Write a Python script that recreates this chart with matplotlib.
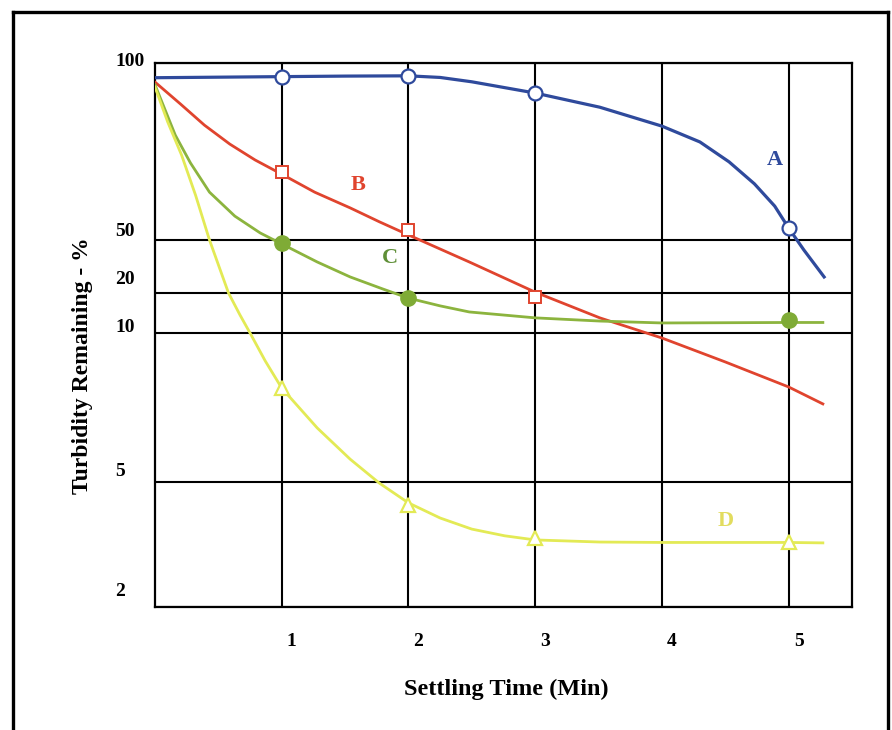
import numpy as np
import matplotlib
matplotlib.use("Agg")
import matplotlib.pyplot as plt
import matplotlib.transforms as mtransforms
from matplotlib.lines import Line2D

# --- 数据准备 ---
# 曲线 A（蓝色，空心圆）
a_curve_x = [0, 1, 1.5, 2, 2.25, 2.5, 3, 3.51, 4, 4.30, 4.53, 4.73, 4.89, 5.0, 5.12, 5.28]
a_curve_y = [94.4, 94.8, 95.0, 95.1, 94.5, 92.9, 88.9, 84.1, 78.1, 73.4, 67.9, 62.3, 57.1, 52.4, 42.1, 26.4]
a_mark_x = [1, 2, 3, 5]
a_mark_y = [94.8, 95.1, 88.8, 52.5]

# 曲线 B（红色，空心方块）
b_curve_x = [0, 0.20, 0.39, 0.59, 0.79, 1.0, 1.26, 1.54, 1.77, 2.0, 2.48, 3.0, 3.51, 4.0, 4.5, 5.0, 5.27]
b_curve_y = [92.8, 85.2, 78.4, 72.8, 68.4, 64.7, 60.3, 56.7, 53.7, 51.0, 34.2, 20.3, 13.0, 9.77, 8.74, 7.78, 7.19]
b_mark_x = [1, 2, 3]
b_mark_y = [65.2, 51.9, 18.6]

# 曲线 C（绿色，实心圆）
c_curve_x = [0, 0.08, 0.16, 0.28, 0.43, 0.63, 0.83, 1.0, 1.28, 1.54, 1.80, 2.0, 2.25, 2.48, 3.0, 3.51, 4.0, 5.0, 5.27]
c_curve_y = [91.8, 83.2, 75.4, 67.6, 60.3, 54.9, 51.4, 46.7, 34.2, 26.4, 21.4, 18.3, 16.0, 14.4, 13.0, 12.3, 11.9, 12.0, 12.0]
c_mark_x = [1, 2, 5]
c_mark_y = [47.5, 18.3, 12.5]

# 曲线 D（黄色，空心三角）
d_curve_x = [0, 0.10, 0.21, 0.32, 0.43, 0.58, 0.67, 0.75, 0.87, 1.0, 1.28, 1.54, 1.77, 2.0,
             2.25, 2.5, 2.76, 3.0, 3.51, 4.0, 5.0, 5.27]
d_curve_y = [91.0, 79.4, 69.7, 59.6, 50.0, 20.0, 13.7, 10.0, 8.78, 7.74, 6.43, 5.56, 4.96, 4.29,
             3.84, 3.54, 3.37, 3.27, 3.22, 3.21, 3.21, 3.20]
d_mark_x = [1, 2, 3, 5]
d_mark_y = [7.74, 4.22, 3.32, 3.23]

# 坐标轴刻度
x_ticks = [1, 2, 3, 4, 5]
x_tick_text = ["1", "2", "3", "4", "5"]
y_ticks = [2, 5, 10, 20, 50, 100]
y_tick_text = ["2", "5", "10", "20", "50", "100"]

# --- 纵轴：原图的刻度间距不均匀，按刻度分段对数映射 ---
tick_pos = [0, 125, 274, 314, 367, 544]


def fwd(v):
    v = np.maximum(np.asarray(v, dtype=float), 1e-3)
    return np.interp(np.log10(v), np.log10(y_ticks), tick_pos)


def inv(p):
    return 10 ** np.interp(p, tick_pos, np.log10(y_ticks))


plt.rcParams["font.family"] = ["Liberation Serif", "DejaVu Serif"]
plt.rcParams["font.weight"] = "bold"

fig = plt.figure(figsize=(8.92, 7.30), dpi=100)
ax = fig.add_axes([155 / 892, 123 / 730, 697 / 892, 544 / 730])
ax.set_yscale("function", functions=(fwd, inv))
ax.set_xlim(0, 5.5)
ax.set_ylim(2, 100)

# 网格线
ax.set_xticks(x_ticks)
ax.set_yticks(y_ticks)
ax.yaxis.set_minor_locator(matplotlib.ticker.NullLocator())
ax.set_xticklabels([])
ax.set_yticklabels([])
ax.tick_params(length=0)
ax.grid(True, color="black", linewidth=1.5)
for s in ax.spines.values():
    s.set_linewidth(1.6)

# 曲线与数据点
blue, red, green, yellow = "#2f4a9c", "#e0442e", "#8cb43e", "#e3ea55"
ax.plot(a_curve_x, a_curve_y, color=blue, lw=2.3, zorder=3)
ax.plot(b_curve_x, b_curve_y, color=red, lw=2.0, zorder=3)
ax.plot(c_curve_x, c_curve_y, color=green, lw=2.0, zorder=3)
ax.plot(d_curve_x, d_curve_y, color=yellow, lw=2.0, zorder=3)
ax.plot(a_mark_x, a_mark_y, "o", ms=10, mfc="white", mec=blue, mew=1.6, zorder=4)
ax.plot(b_mark_x, b_mark_y, "s", ms=8, mfc="white", mec=red, mew=1.4, zorder=4)
ax.plot(c_mark_x, c_mark_y, "o", ms=11, mfc="#7fab36", mec="#7fab36", zorder=4)
ax.plot(d_mark_x, d_mark_y, "^", ms=10, mfc="white", mec=yellow, mew=1.6, zorder=4)

# 曲线标注
ax.text(4.89, 68.4, "A", color=blue, fontsize=16, ha="center", va="center")
ax.text(1.60, 62.0, "B", color=red, fontsize=16, ha="center", va="center")
ax.text(1.85, 36.6, "C", color="#5f8f37", fontsize=16, ha="center", va="center")
ax.text(4.50, 3.76, "D", color="#e2dc5e", fontsize=16, ha="center", va="center")

# 刻度文字（原图中刻度数字相对网格线略有偏移）
ytrans = mtransforms.blended_transform_factory(ax.transAxes, ax.transData)
y_shift = [15, 10, 6, 13, 8, 1]
for v, t, dy in zip(y_ticks, y_tick_text, y_shift):
    off = mtransforms.ScaledTranslation(0, dy / 100, fig.dpi_scale_trans)
    ax.text((115 - 155) / 697, v, t, transform=ytrans + off, ha="left", va="center",
            fontsize=14, clip_on=False)

xtrans = mtransforms.blended_transform_factory(ax.transData, ax.transAxes)
xoff = mtransforms.ScaledTranslation(10 / 100, 0, fig.dpi_scale_trans)
for v, t in zip(x_ticks, x_tick_text):
    ax.text(v, -35 / 544, t, transform=xtrans + xoff, ha="center", va="center",
            fontsize=14, clip_on=False)

ax.set_xlabel("Settling Time (Min)", fontsize=17.5, fontweight="bold")
ax.xaxis.set_label_coords((506 - 155) / 697, -72 / 544)
ax.set_ylabel("Turbidity Remaining - %", fontsize=17, fontweight="bold")
ax.yaxis.set_label_coords((93 - 155) / 697, (607 - 366) / 544)

# 外框
for xs, ys in [([13 / 892, 888 / 892], [1 - 12 / 730, 1 - 12 / 730]),
               ([13 / 892, 13 / 892], [0, 1 - 12 / 730]),
               ([888 / 892, 888 / 892], [0, 1 - 12 / 730])]:
    fig.add_artist(Line2D(xs, ys, color="black", lw=2.4, transform=fig.transFigure))

fig.savefig("out.png", dpi=100)
